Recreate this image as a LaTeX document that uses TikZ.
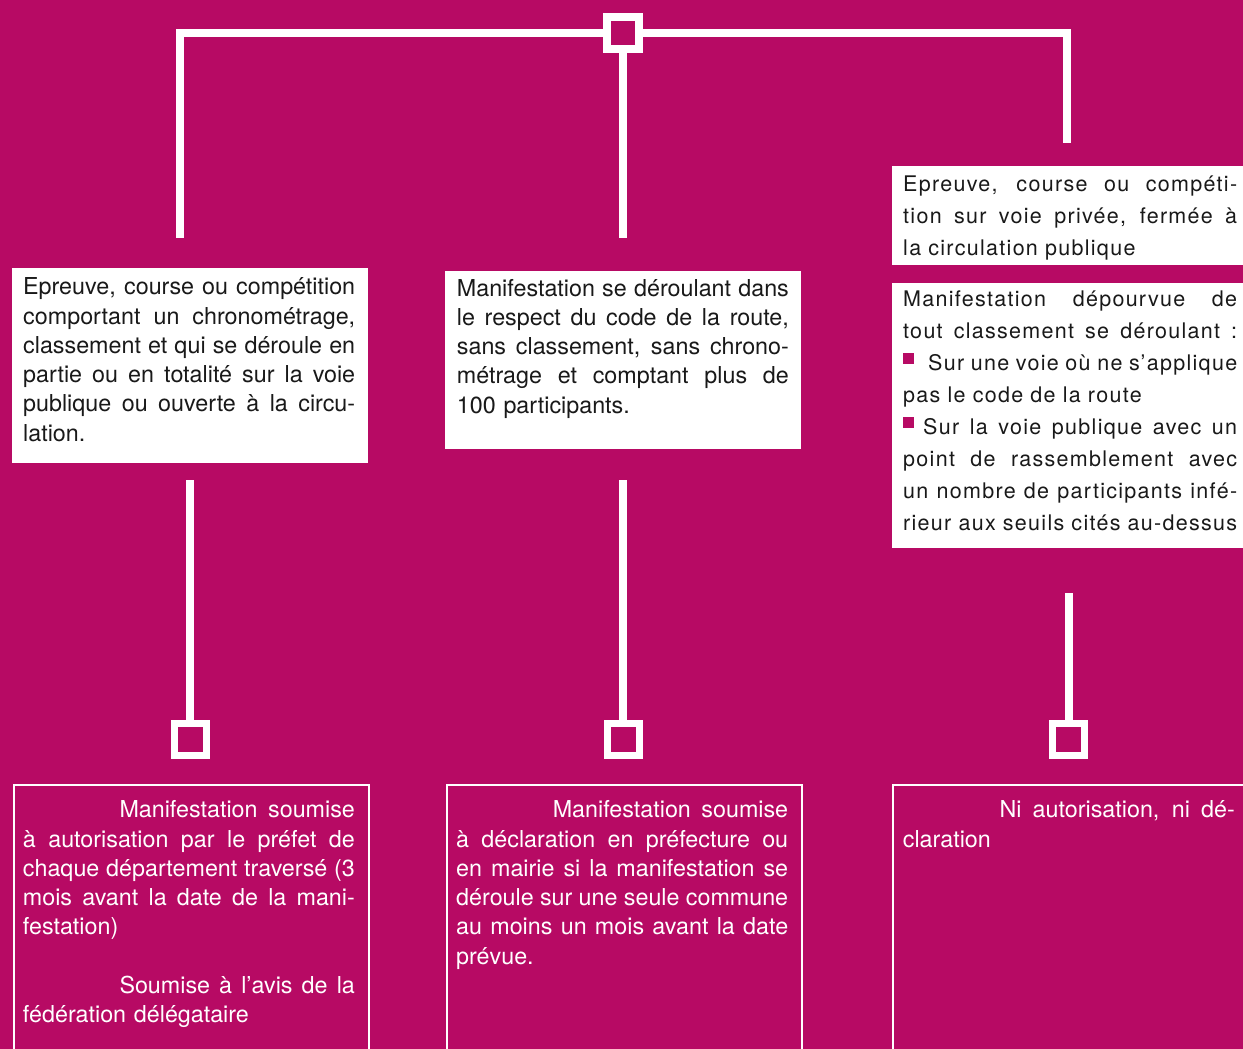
\documentclass[tikz,border=0pt]{standalone}
\usepackage{fontspec}
\setmainfont{TeX Gyre Heros}
\newfontfamily\rcolfont[LetterSpace=6]{TeX Gyre Heros}
\definecolor{mag}{RGB}{183,10,100}
\definecolor{ink}{RGB}{25,25,25}
\newlength\tw \setlength\tw{332pt}
\newlength\twr \setlength\twr{334pt}
\newcommand\jl[1]{\makebox[\tw][s]{\spaceskip=0pt\xspaceskip=0pt\relax #1}\\}
\newcommand\jr[1]{\makebox[\twr][s]{\spaceskip=0pt\xspaceskip=0pt\relax #1}\\}
\newcommand\bul{\textcolor{mag}{\rule[6.5pt]{11pt}{11pt}}}
\tikzset{
  conn/.style={draw=white, line width=8pt, line join=miter},
  hub/.style={draw=white, line width=8pt, rectangle, inner sep=0pt, minimum size=32pt},
  leaf/.style={draw=white, line width=7pt, rectangle, inner sep=0pt, minimum size=32pt},
  wbox/.style={fill=white, rectangle, inner sep=0pt, anchor=north west},
  obox/.style={draw=white, line width=1.8pt, rectangle, inner sep=0pt, anchor=north west},
  ltxt/.style={anchor=base west, inner sep=0pt, text width=\tw,
    font={\fontsize{23.3}{29.3}\selectfont}},
  rtxt/.style={anchor=base west, inner sep=0pt, text width=\twr,
    font={\rcolfont\fontsize{21.5}{32}\selectfont}}
}
\begin{document}
\begin{tikzpicture}[x=1pt,y=-1pt]
\clip (0,0) rectangle (1243,1049);
\fill[mag] (0,0) rectangle (1243,1049);

% top hub and branches
\node[hub] (top) at (623,33) {};
\coordinate (eL) at (180,238);
\coordinate (eM) at (623,238);
\coordinate (eR) at (1067,143);
\draw[conn] (top.west) -| (eL);
\draw[conn] (top.east) -| (eR);
\draw[conn] (top.south) -- (eM);

% condition boxes
\node[wbox, minimum width=356pt, minimum height=195pt] (b1) at (12,267.5) {};
\node[wbox, minimum width=356pt, minimum height=177.3pt] (b2) at (445,271) {};
\node[wbox, minimum width=368.5pt, minimum height=99pt] (b3) at (891.5,166) {};
\node[wbox, minimum width=368.5pt, minimum height=264.6pt] (b4) at (891.5,282.7) {};

\node[ltxt, text=ink] (t1) at (23,294.7) {%
\jl{Epreuve, course ou compétition}
\jl{comportant un chronométrage,}
\jl{classement et qui se déroule en}
\jl{partie ou en totalité sur la voie}
\jl{publique ou ouverte à la circu-}
lation.};

\node[ltxt, text=ink] (t2) at (456.7,296) {%
\jl{Manifestation se déroulant dans}
\jl{le respect du code de la route,}
\jl{sans classement, sans chrono-}
\jl{métrage et comptant plus de}
100 participants.};

\node[rtxt, text=ink] (t3) at (903,191.7) {%
\jr{Epreuve, course ou compéti-}
\jr{tion sur voie privée, fermée à}
la circulation publique};

\node[rtxt, text=ink] (t4) at (903,306.7) {%
\jr{Manifestation dépourvue de}
\jr{tout classement se déroulant :}
\jr{\bul\hspace{14pt}Sur une voie où ne s’applique}
pas le code de la route\\
\jr{\bul\hspace{9pt}Sur la voie publique avec un}
\jr{point de rassemblement avec}
\jr{un nombre de participants infé-}
\makebox[\twr][s]{\spaceskip=0pt\xspaceskip=0pt\relax rieur aux seuils cités au-dessus}};

% lower connectors and leaf squares
\coordinate (sL) at (190,480);
\coordinate (sM) at (623.3,480);
\coordinate (sR) at (1068.8,593);
\node[leaf] (qL) at (190,739.5) {};
\node[leaf] (qM) at (623.3,739.5) {};
\node[leaf] (qR) at (1068.8,739.5) {};
\draw[conn] (sL) -- (qL.north);
\draw[conn] (sM) -- (qM.north);
\draw[conn] (sR) -- (qR.north);

% outcome boxes
\node[obox, minimum width=355pt, minimum height=300pt] (o1) at (12.9,784) {};
\node[obox, minimum width=355pt, minimum height=300pt] (o2) at (445.9,784) {};
\node[obox, minimum width=380pt, minimum height=300pt] (o3) at (891.9,784) {};

\node[ltxt, text=white] (t5) at (22.7,817.7) {%
\jl{\hspace*{96.6pt}Manifestation soumise}
\jl{à autorisation par le préfet de}
\jl{chaque département traversé (3}
\jl{mois avant la date de la mani-}
festation)\\[29.3pt]
\jl{\hspace*{96.6pt}Soumise à l’avis de la}
fédération délégataire};

\node[ltxt, text=white] (t6) at (456,817.7) {%
\jl{\hspace*{96.6pt}Manifestation soumise}
\jl{à déclaration en préfecture ou}
\jl{en mairie si la manifestation se}
\jl{déroule sur une seule commune}
\jl{au moins un mois avant la date}
prévue.};

\node[ltxt, text=white] (t7) at (902.7,817.7) {%
\jl{\hspace*{96.6pt}Ni autorisation, ni dé-}
claration};
\end{tikzpicture}
\end{document}
